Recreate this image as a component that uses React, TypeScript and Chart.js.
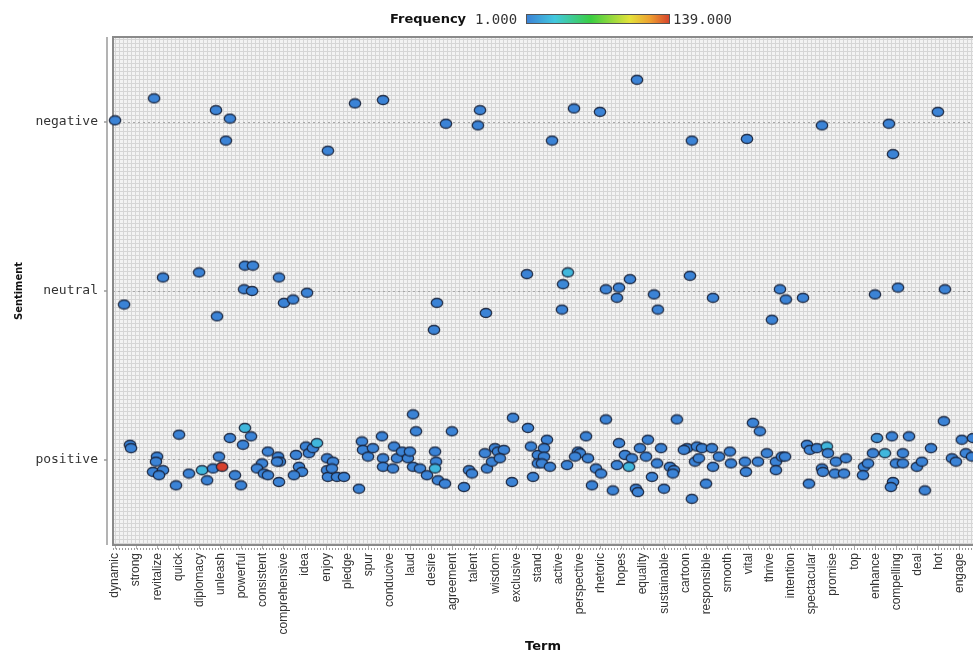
import React, { useEffect, useRef } from "react";
import { Chart, registerables } from "chart.js";

Chart.register(...registerables);

// ---------- data ----------
const terms = [
  "dynamic", "strong", "revitalize", "quick", "diplomacy", "unleash", "powerful",
  "consistent", "comprehensive", "idea", "enjoy", "pledge", "spur", "conducive",
  "laud", "desire", "agreement", "talent", "wisdom", "exclusive", "stand", "active",
  "perspective", "rhetoric", "hopes", "equality", "sustainable", "cartoon",
  "responsible", "smooth", "vital", "thrive", "intention", "spectacular", "promise",
  "top", "enhance", "compelling", "deal", "hot", "engage",
];

const sentiments = ["positive", "neutral", "negative"];

const freqMin = 1;
const freqMax = 139;

// [term position (jittered), sentiment position (jittered), frequency]
const negativePoints: number[][] = [
  [0.0, 2.01, 2], [1.85, 2.14, 2], [4.78, 2.07, 2], [5.44, 2.02, 2], [5.25, 1.89, 2],
  [10.08, 1.83, 2], [11.36, 2.11, 2], [12.69, 2.13, 2], [15.67, 1.99, 2], [17.28, 2.07, 2],
  [17.18, 1.98, 2], [20.69, 1.89, 2], [21.73, 2.08, 2], [22.96, 2.06, 2], [24.71, 2.25, 2],
  [27.31, 1.89, 2], [29.92, 1.9, 2], [33.47, 1.98, 2], [36.64, 1.99, 2], [36.83, 1.81, 2],
  [38.96, 2.06, 2],
];

const neutralPoints: number[][] = [
  [0.43, 0.92, 2], [2.27, 1.08, 2], [3.98, 1.11, 2], [4.83, 0.85, 2], [6.15, 1.15, 2],
  [6.53, 1.15, 2], [6.11, 1.01, 2], [6.49, 1.0, 2], [7.76, 1.08, 2], [8.0, 0.93, 2],
  [8.43, 0.95, 2], [9.09, 0.99, 2], [15.24, 0.93, 2], [15.1, 0.77, 2], [17.56, 0.87, 2],
  [19.5, 1.1, 2], [21.44, 1.11, 22], [21.21, 1.04, 4], [21.16, 0.89, 2], [23.24, 1.01, 2],
  [23.76, 0.96, 2], [23.86, 1.02, 2], [24.38, 1.07, 2], [25.52, 0.98, 2], [25.7, 0.89, 2],
  [27.22, 1.09, 2], [28.31, 0.96, 2], [31.1, 0.83, 2], [31.48, 1.01, 2], [31.76, 0.95, 2],
  [32.57, 0.96, 2], [35.98, 0.98, 2], [37.07, 1.02, 2], [39.29, 1.01, 2],
];

const positivePoints: number[][] = [
  [0.71, 0.09, 2], [0.76, 0.07, 2], [3.03, 0.15, 2], [6.15, 0.19, 22], [5.44, 0.13, 2],
  [6.44, 0.14, 2], [6.06, 0.09, 2], [1.99, 0.02, 2], [1.94, -0.01, 2], [1.8, -0.07, 2],
  [2.27, -0.06, 2], [2.08, -0.09, 2], [2.89, -0.15, 2], [3.5, -0.08, 2], [4.12, -0.06, 22],
  [4.64, -0.05, 2], [4.92, 0.02, 2], [5.07, -0.04, 139], [4.36, -0.12, 2], [5.68, -0.09, 2],
  [5.96, -0.15, 2], [7.24, 0.05, 2], [6.96, -0.02, 2], [6.72, -0.05, 2], [7.05, -0.08, 2],
  [7.24, -0.09, 2], [7.72, 0.02, 2], [7.81, -0.01, 2], [7.67, -0.01, 2], [7.76, -0.13, 2],
  [8.57, 0.03, 2], [8.71, -0.04, 2], [8.85, -0.07, 2], [8.47, -0.09, 2], [9.04, 0.08, 2],
  [9.18, 0.04, 2], [9.37, 0.07, 2], [9.56, 0.1, 22], [10.04, 0.01, 2], [10.04, -0.06, 2],
  [10.08, -0.1, 2], [10.32, -0.01, 2], [10.27, -0.05, 2], [10.51, -0.1, 2], [10.84, -0.1, 2],
  [11.55, -0.17, 2], [11.69, 0.11, 2], [12.64, 0.14, 2], [11.74, 0.06, 2], [11.98, 0.02, 2],
  [12.21, 0.07, 2], [12.69, 0.01, 2], [12.69, -0.04, 2], [13.16, -0.05, 2], [13.21, 0.08, 2],
  [13.35, 0.01, 2], [13.59, 0.05, 2], [13.87, 0.01, 2], [13.96, 0.05, 2], [14.11, 0.27, 2],
  [14.25, 0.17, 2], [14.11, -0.04, 2], [14.44, -0.05, 2], [14.77, -0.09, 2], [15.15, 0.05, 2],
  [15.2, -0.01, 2], [15.15, -0.05, 22], [15.29, -0.12, 2], [15.62, -0.14, 2], [15.95, 0.17, 2],
  [16.52, -0.16, 2], [16.76, -0.06, 2], [16.9, -0.08, 2], [17.51, 0.04, 2], [17.61, -0.05, 2],
  [17.85, -0.01, 2], [17.99, 0.07, 2], [18.13, 0.05, 2], [18.41, 0.06, 2], [18.22, 0.01, 2],
  [18.84, 0.25, 2], [19.55, 0.19, 2], [18.79, -0.13, 2], [19.69, 0.08, 2], [20.02, 0.03, 2],
  [19.79, -0.1, 2], [20.02, -0.02, 2], [20.45, 0.12, 2], [20.31, 0.07, 2], [20.31, 0.02, 2],
  [20.21, -0.02, 2], [20.59, -0.04, 2], [21.4, -0.03, 2], [22.3, 0.14, 2], [23.24, 0.24, 2],
  [21.92, 0.05, 2], [22.01, 0.04, 2], [21.78, 0.02, 2], [22.39, 0.01, 2], [22.77, -0.05, 2],
  [23.01, -0.08, 2], [22.58, -0.15, 2], [23.57, -0.18, 2], [23.86, 0.1, 2], [23.76, -0.03, 2],
  [24.14, 0.03, 2], [24.47, 0.01, 2], [24.33, -0.04, 22], [24.66, -0.17, 2], [24.76, -0.19, 2],
  [24.85, 0.07, 2], [25.23, 0.12, 2], [25.14, 0.02, 2], [25.66, -0.02, 2], [25.85, 0.07, 2],
  [25.42, -0.1, 2], [25.99, -0.17, 2], [26.27, -0.04, 2], [26.46, -0.06, 2], [26.41, -0.08, 2],
  [26.6, 0.24, 2], [27.08, 0.07, 2], [26.93, 0.06, 2], [27.55, 0.08, 2], [27.79, 0.07, 2],
  [28.26, 0.07, 2], [27.46, -0.01, 2], [27.64, 0.01, 2], [28.59, 0.02, 2], [28.31, -0.04, 2],
  [27.98, -0.14, 2], [27.31, -0.23, 2], [29.11, 0.05, 2], [29.16, -0.02, 2], [29.82, -0.01, 2],
  [29.87, -0.07, 2], [30.2, 0.22, 2], [30.53, 0.17, 2], [30.44, -0.01, 2], [30.86, 0.04, 2],
  [31.29, -0.01, 2], [31.29, -0.06, 2], [31.57, 0.02, 2], [31.72, 0.02, 2], [32.76, 0.09, 2],
  [32.9, 0.06, 2], [33.23, 0.07, 2], [33.7, 0.08, 22], [33.75, 0.04, 2], [33.47, -0.05, 2],
  [33.51, -0.07, 2], [34.13, -0.01, 2], [34.6, 0.01, 2], [34.08, -0.08, 2], [34.51, -0.08, 2],
  [32.85, -0.14, 2], [35.46, -0.04, 2], [35.65, -0.02, 2], [35.41, -0.09, 2], [35.88, 0.04, 2],
  [36.07, 0.13, 8], [36.78, 0.14, 2], [37.59, 0.14, 2], [36.45, 0.04, 22], [37.3, 0.04, 2],
  [36.97, -0.02, 2], [37.3, -0.02, 2], [37.96, -0.04, 2], [38.2, -0.01, 2], [36.83, -0.13, 2],
  [36.73, -0.16, 2], [38.34, -0.18, 2], [38.63, 0.07, 2], [39.24, 0.23, 2], [39.62, 0.01, 2],
  [39.81, -0.01, 2], [40.09, 0.12, 2], [40.28, 0.04, 2], [40.57, 0.02, 2], [40.62, 0.13, 2],
];

// ---------- styling ----------
const colorStops: [number, number[]][] = [
  [0.0, [59, 128, 214]],
  [0.2, [66, 200, 222]],
  [0.45, [58, 206, 66]],
  [0.72, [228, 226, 58]],
  [0.86, [238, 160, 48]],
  [1.0, [214, 64, 44]],
];

function freqColor(f: number): string {
  const t = Math.max(0, Math.min(1, (f - freqMin) / (freqMax - freqMin)));
  for (let i = 1; i < colorStops.length; i++) {
    const [t1, c1] = colorStops[i];
    const [t0, c0] = colorStops[i - 1];
    if (t <= t1) {
      const k = (t - t0) / (t1 - t0);
      const c = c0.map((v, j) => Math.round(v + (c1[j] - v) * k));
      return `rgb(${c[0]},${c[1]},${c[2]})`;
    }
  }
  const c = colorStops[colorStops.length - 1][1];
  return `rgb(${c[0]},${c[1]},${c[2]})`;
}

const toData = (pts: number[][]) => pts.map(([x, y, f]) => ({ x, y, f }));

export default function App() {
  const ref = useRef<HTMLCanvasElement>(null);

  useEffect(() => {
    const canvas = ref.current;
    if (!canvas) return;

    const dotCache = new Map<string, HTMLCanvasElement>();
    const getDot = (f: number) => {
      const col = freqColor(f);
      let c = dotCache.get(col);
      if (!c) {
        c = document.createElement("canvas");
        c.width = 14;
        c.height = 12;
        const g = c.getContext("2d")!;
        g.beginPath();
        g.ellipse(7, 6, 5.7, 4.5, 0, 0, Math.PI * 2);
        g.fillStyle = col;
        g.fill();
        g.lineWidth = 1.3;
        g.strokeStyle = "rgba(22,32,55,0.9)";
        g.stroke();
        dotCache.set(col, c);
      }
      return c;
    };

    const decor = {
      id: "decor",
      beforeDraw(chart: any) {
        const { ctx, chartArea: a } = chart;
        ctx.save();
        ctx.fillStyle = "#f3f3f3";
        ctx.fillRect(a.left, a.top, a.right - a.left, a.bottom - a.top);
        ctx.strokeStyle = "#d6d6d6";
        ctx.lineWidth = 1;
        ctx.beginPath();
        for (let x = a.left + 2.5; x < a.right; x += 4) {
          ctx.moveTo(x, a.top);
          ctx.lineTo(x, a.bottom);
        }
        for (let y = a.top + 2.5; y < a.bottom; y += 4) {
          ctx.moveTo(a.left, y);
          ctx.lineTo(a.right, y);
        }
        ctx.stroke();
        ctx.restore();
      },
      beforeDatasetsDraw(chart: any) {
        const { ctx, chartArea: a, scales } = chart;
        ctx.save();
        // plot box
        ctx.strokeStyle = "#8a8a8a";
        ctx.lineWidth = 2;
        ctx.strokeRect(a.left, a.top, a.right - a.left + 4, a.bottom - a.top);
        // separate y axis line with tick marks
        ctx.strokeStyle = "#9a9a9a";
        ctx.lineWidth = 1.5;
        ctx.beginPath();
        ctx.moveTo(a.left - 6, a.top);
        ctx.lineTo(a.left - 6, a.bottom);
        sentiments.forEach((_, i) => {
          const y = scales.y.getPixelForValue(i);
          ctx.moveTo(a.left - 9, y);
          ctx.lineTo(a.left - 6, y);
        });
        ctx.stroke();
        // dotted x axis row
        ctx.strokeStyle = "#9a9a9a";
        ctx.lineWidth = 2;
        ctx.setLineDash([1, 2]);
        ctx.beginPath();
        ctx.moveTo(a.left, a.bottom + 4);
        ctx.lineTo(a.right, a.bottom + 4);
        ctx.stroke();
        ctx.restore();
      },
      afterDraw(chart: any) {
        const { ctx } = chart;
        ctx.save();
        ctx.textBaseline = "middle";
        ctx.fillStyle = "#111";
        ctx.font = "bold 13px 'DejaVu Sans', sans-serif";
        ctx.textAlign = "left";
        ctx.fillText("Frequency", 390, 20);
        ctx.font = "14px 'DejaVu Sans Mono', monospace";
        ctx.fillStyle = "#333";
        ctx.fillText(String(freqMin.toFixed(3)), 475, 20);
        ctx.fillText(String(freqMax.toFixed(3)), 673, 20);
        const x0 = 526, x1 = 670, y0 = 14, h = 10;
        const grad = ctx.createLinearGradient(x0, 0, x1, 0);
        colorStops.forEach(([t, c]) => grad.addColorStop(t, `rgb(${c[0]},${c[1]},${c[2]})`));
        ctx.fillStyle = grad;
        ctx.fillRect(x0, y0, x1 - x0, h);
        ctx.strokeStyle = "#555";
        ctx.lineWidth = 1;
        ctx.strokeRect(x0 + 0.5, y0 + 0.5, x1 - x0 - 1, h - 1);
        ctx.restore();
      },
    };

    const pointStyleFn = (c: any) => getDot(c.raw ? c.raw.f : 1);

    const chart = new Chart(canvas, {
      type: "scatter",
      data: {
        datasets: [
          { label: "negative", data: toData(negativePoints) },
          { label: "neutral", data: toData(neutralPoints) },
          { label: "positive", data: toData(positivePoints) },
        ].map((d) => ({
          ...d,
          pointStyle: pointStyleFn as any,
          pointRadius: 6,
          clip: false as any,
        })),
      },
      options: {
        animation: false,
        responsive: true,
        maintainAspectRatio: false,
        events: [],
        layout: { autoPadding: false, padding: { top: 37, right: 0, left: 0, bottom: 0 } },
        plugins: {
          legend: { display: false },
          tooltip: { enabled: false },
        },
        scales: {
          x: {
            type: "linear",
            min: -0.095,
            max: 40.62,
            afterBuildTicks: (s: any) => {
              s.ticks = terms.map((_, i) => ({ value: i }));
            },
            afterFit: (s: any) => {
              s.height = 109;
              s.paddingLeft = 0;
              s.paddingRight = 0;
            },
            ticks: {
              autoSkip: false,
              maxRotation: 90,
              minRotation: 90,
              padding: 4,
              color: "#333",
              font: { family: "'Liberation Sans', Arial, sans-serif", size: 12 },
              callback: (v: any) => terms[Math.round(Number(v))] ?? "",
            },
            grid: {
              drawOnChartArea: false,
              drawTicks: true,
              tickLength: 4,
              tickColor: "#b0b0b0",
            },
            border: { display: false },
            title: {
              display: true,
              text: "Term",
              color: "#111",
              font: { family: "'DejaVu Sans', sans-serif", size: 13, weight: "bold" },
              padding: { top: 0, bottom: 0 },
            },
          },
          y: {
            type: "linear",
            min: -0.503,
            max: 2.503,
            afterBuildTicks: (s: any) => {
              s.ticks = sentiments.map((_, i) => ({ value: i }));
            },
            afterFit: (s: any) => {
              s.width = 113;
              s.paddingTop = 0;
              s.paddingBottom = 0;
            },
            ticks: {
              padding: 15,
              color: "#333",
              font: { family: "'DejaVu Sans Mono', monospace", size: 13 },
              callback: (v: any) => sentiments[Math.round(Number(v))] ?? "",
            },
            grid: {
              color: "#a8a8a8",
              lineWidth: 1,
              drawTicks: false,
            },
            border: { display: false, dash: [2, 3] },
            title: {
              display: true,
              text: "Sentiment",
              color: "#111",
              font: { family: "'DejaVu Sans Condensed', 'Liberation Sans', sans-serif", size: 11, weight: "bold" },
              padding: { top: 13, bottom: 0 },
            },
          },
        },
      },
      plugins: [decor],
    } as any);

    return () => chart.destroy();
  }, []);

  return (
    <div style={{ position: "absolute", left: 0, top: 0, width: 973, height: 654 }}>
      <canvas ref={ref} />
    </div>
  );
}
